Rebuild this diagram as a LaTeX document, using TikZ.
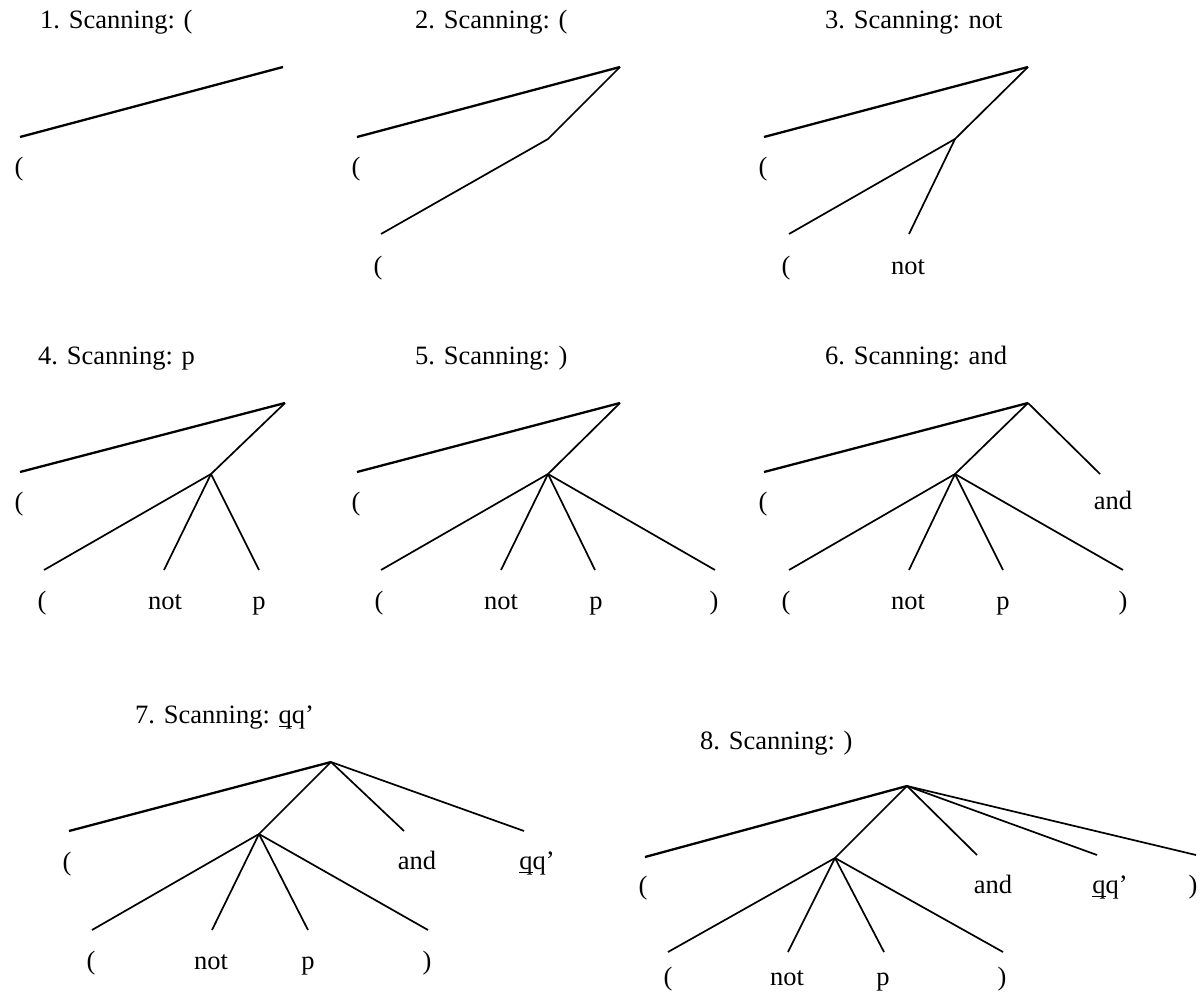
\documentclass[tikz,border=0pt]{standalone}
\usepackage{fontspec}
\setmainfont{Liberation Serif}
\newcommand\uq{\rlap{\rule[-0.16em]{0.5em}{0.06em}}q}
\begin{document}
\begin{tikzpicture}[x=1pt,y=-1pt,
  edge/.style={line width=1.7pt},
  topedge/.style={line width=2.3pt},
  lbl/.style={anchor=base,inner sep=0pt,font=\fontsize{26.5}{30}\selectfont},
  ttl/.style={anchor=base west,inner sep=0pt,font=\fontsize{26.5}{30}\selectfont}]
\useasboundingbox (0,0) rectangle (1204,993);

% ---------- Panel 1
\node[ttl] (t1) at (40,28) {1. Scanning: (};
\coordinate (r1) at (283,67);
\coordinate (a1) at (20,137);
\node[lbl] (l1a) at (19,175) {(};
\draw[topedge] (a1) -- (r1);

% ---------- Panel 2
\node[ttl] (t2) at (415,28) {2. Scanning: (};
\coordinate (r2) at (620,67);
\coordinate (a2) at (357,137);
\coordinate (m2) at (548,139);
\coordinate (b2) at (381,234);
\node[lbl] (l2a) at (356,175) {(};
\node[lbl] (l2b) at (378,274) {(};
\draw[topedge] (a2) -- (r2);
\draw[edge] (r2) -- (m2) -- (b2);

% ---------- Panel 3
\node[ttl] (t3) at (825,28) {3. Scanning: not};
\coordinate (r3) at (1028,67);
\coordinate (a3) at (764,137);
\coordinate (m3) at (955,139);
\coordinate (b3) at (789,234);
\coordinate (c3) at (909,234);
\node[lbl] (l3a) at (763,175) {(};
\node[lbl] (l3b) at (786,274) {(};
\node[lbl] (l3c) at (908,274) {not};
\draw[topedge] (a3) -- (r3);
\draw[edge] (r3) -- (m3) -- (b3);
\draw[edge] (m3) -- (c3);

% ---------- Panel 4
\node[ttl] (t4) at (38,364) {4. Scanning: p};
\coordinate (r4) at (285,403);
\coordinate (a4) at (20,472);
\coordinate (m4) at (211,474);
\coordinate (b4) at (44,570);
\coordinate (c4) at (164,570);
\coordinate (d4) at (259,570);
\node[lbl] (l4a) at (19,510) {(};
\node[lbl] (l4b) at (42,609) {(};
\node[lbl] (l4c) at (165,609) {not};
\node[lbl] (l4d) at (259,609) {p};
\draw[topedge] (a4) -- (r4);
\draw[edge] (r4) -- (m4) -- (b4);
\draw[edge] (m4) -- (c4);
\draw[edge] (m4) -- (d4);

% ---------- Panel 5
\node[ttl] (t5) at (415,364) {5. Scanning: )};
\coordinate (r5) at (620,403);
\coordinate (a5) at (357,472);
\coordinate (m5) at (548,474);
\coordinate (b5) at (381,570);
\coordinate (c5) at (501,570);
\coordinate (d5) at (595,570);
\coordinate (e5) at (715,570);
\node[lbl] (l5a) at (356,510) {(};
\node[lbl] (l5b) at (379,609) {(};
\node[lbl] (l5c) at (501,609) {not};
\node[lbl] (l5d) at (596,609) {p};
\node[lbl] (l5e) at (714,609) {)};
\draw[topedge] (a5) -- (r5);
\draw[edge] (r5) -- (m5) -- (b5);
\draw[edge] (m5) -- (c5);
\draw[edge] (m5) -- (d5);
\draw[edge] (m5) -- (e5);

% ---------- Panel 6
\node[ttl] (t6) at (825,364) {6. Scanning: and};
\coordinate (r6) at (1028,403);
\coordinate (a6) at (764,472);
\coordinate (m6) at (955,474);
\coordinate (f6) at (1100,474);
\coordinate (b6) at (789,570);
\coordinate (c6) at (909,570);
\coordinate (d6) at (1003,570);
\coordinate (e6) at (1123,570);
\node[lbl] (l6a) at (763,510) {(};
\node[lbl] (l6f) at (1113,509) {and};
\node[lbl] (l6b) at (786,609) {(};
\node[lbl] (l6c) at (908,609) {not};
\node[lbl] (l6d) at (1003,609) {p};
\node[lbl] (l6e) at (1123,609) {)};
\draw[topedge] (a6) -- (r6);
\draw[edge] (r6) -- (m6) -- (b6);
\draw[edge] (r6) -- (f6);
\draw[edge] (m6) -- (c6);
\draw[edge] (m6) -- (d6);
\draw[edge] (m6) -- (e6);

% ---------- Panel 7
\node[ttl] (t7) at (135,723) {7. Scanning: \uq q’};
\coordinate (r7) at (331,762);
\coordinate (a7) at (69,831);
\coordinate (m7) at (259,834);
\coordinate (f7) at (404,831);
\coordinate (g7) at (524,831);
\coordinate (b7) at (92,930);
\coordinate (c7) at (212,930);
\coordinate (d7) at (308,930);
\coordinate (e7) at (428,930);
\node[lbl] (l7a) at (67,870) {(};
\node[lbl] (l7f) at (417,869) {and};
\node[lbl] (l7g) at (537,869) {\uq q’};
\node[lbl] (l7b) at (91,969) {(};
\node[lbl] (l7c) at (211,969) {not};
\node[lbl] (l7d) at (308,969) {p};
\node[lbl] (l7e) at (427,969) {)};
\draw[topedge] (a7) -- (r7);
\draw[edge] (r7) -- (m7) -- (b7);
\draw[edge] (r7) -- (f7);
\draw[edge] (r7) -- (g7);
\draw[edge] (m7) -- (c7);
\draw[edge] (m7) -- (d7);
\draw[edge] (m7) -- (e7);

% ---------- Panel 8
\node[ttl] (t8) at (700,749) {8. Scanning: )};
\coordinate (r8) at (907,786);
\coordinate (a8) at (645,857);
\coordinate (m8) at (835,858);
\coordinate (f8) at (977,855);
\coordinate (g8) at (1097,855);
\coordinate (h8) at (1196,855);
\coordinate (b8) at (668,952);
\coordinate (c8) at (788,952);
\coordinate (d8) at (884,952);
\coordinate (e8) at (1003,952);
\node[lbl] (l8a) at (643,894) {(};
\node[lbl] (l8f) at (993,893) {and};
\node[lbl] (l8g) at (1110,893) {\uq q’};
\node[lbl] (l8h) at (1193,893) {)};
\node[lbl] (l8b) at (668,985) {(};
\node[lbl] (l8c) at (787,985) {not};
\node[lbl] (l8d) at (883,985) {p};
\node[lbl] (l8e) at (1002,985) {)};
\draw[topedge] (a8) -- (r8);
\draw[edge] (r8) -- (m8) -- (b8);
\draw[edge] (r8) -- (f8);
\draw[edge] (r8) -- (g8);
\draw[edge] (r8) -- (h8);
\draw[edge] (m8) -- (c8);
\draw[edge] (m8) -- (d8);
\draw[edge] (m8) -- (e8);
\end{tikzpicture}
\end{document}
